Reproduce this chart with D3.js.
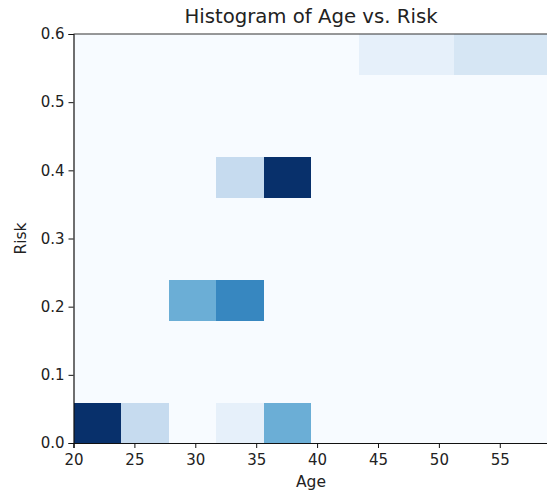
<!DOCTYPE html>
<html>
<head>
<meta charset="utf-8">
<script src="https://cdn.jsdelivr.net/npm/d3@7"></script>
<style>
  body { margin: 0; background: #fff; }
  svg text { font-family: "DejaVu Sans", sans-serif; fill: #222; }
</style>
</head>
<body>
<svg id="chart" width="547" height="492"></svg>
<script>
// bin edges
const ageEdges = [20, 23.9, 27.8, 31.7, 35.6, 39.5, 43.4, 47.3, 51.2, 55.1, 59];
const riskEdges = [0, 0.06, 0.12, 0.18, 0.24, 0.3, 0.36, 0.42, 0.48, 0.54, 0.6];

// counts, one row per risk bin (bottom to top), one column per age bin
const counts = [
  [12, 3, 0, 1, 6, 0, 0, 0, 0, 0],
  [0, 0, 0, 0, 0, 0, 0, 0, 0, 0],
  [0, 0, 0, 0, 0, 0, 0, 0, 0, 0],
  [0, 0, 6, 8, 0, 0, 0, 0, 0, 0],
  [0, 0, 0, 0, 0, 0, 0, 0, 0, 0],
  [0, 0, 0, 0, 0, 0, 0, 0, 0, 0],
  [0, 0, 0, 3, 12, 0, 0, 0, 0, 0],
  [0, 0, 0, 0, 0, 0, 0, 0, 0, 0],
  [0, 0, 0, 0, 0, 0, 0, 0, 0, 0],
  [0, 0, 0, 0, 0, 0, 1, 1, 2, 2]
];

const xTicks = [20, 25, 30, 35, 40, 45, 50, 55];
const yTicks = [0, 0.1, 0.2, 0.3, 0.4, 0.5, 0.6];

const margin = {top: 34, left: 73.5, bottom: 49, right: -1.5};
const width = 547, height = 492;

let svg = d3.select("#chart");

var x = d3.scaleLinear()
  .domain([ageEdges[0], ageEdges[ageEdges.length - 1]])
  .range([margin.left, width - margin.right]);
var y = d3.scaleLinear()
  .domain([riskEdges[0], riskEdges[riskEdges.length - 1]])
  .range([height - margin.bottom, margin.top]);

// matplotlib Blues = linear between the 9 colorbrewer stops
const maxCount = d3.max(counts, r => d3.max(r));
const blues = d3.scaleLinear()
  .domain(d3.range(9).map(i => i / 8 * maxCount))
  .range(d3.schemeBlues[9])
  .interpolate(d3.interpolateRgb);

let cells = [];
for (let r = 0; r < counts.length; r++) {
  for (let c = 0; c < counts[r].length; c++) {
    cells.push({a0: ageEdges[c], a1: ageEdges[c + 1], r0: riskEdges[r], r1: riskEdges[r + 1], n: counts[r][c]});
  }
}

svg.append("g")
  .selectAll("rect")
  .data(cells)
  .join("rect")
  .attr("x", d => x(d.a0))
  .attr("y", d => y(d.r1))
  .attr("width", d => x(d.a1) - x(d.a0) + 0.5)
  .attr("height", d => y(d.r0) - y(d.r1) + 0.5)
  .attr("fill", d => blues(d.n))
  .attr("shape-rendering", "crispEdges");

// axes
var xAxis = d3.axisBottom(x).tickValues(xTicks).tickFormat(d3.format("d")).tickSize(5).tickPadding(6);
var yAxis = d3.axisLeft(y).tickValues(yTicks).tickFormat(d3.format(".1f")).tickSize(5).tickPadding(4);

let ax = svg.append("g")
  .attr("transform", `translate(0,${height - margin.bottom})`)
  .call(xAxis);
let ay = svg.append("g")
  .attr("transform", `translate(${margin.left},0)`)
  .call(yAxis);

[ax, ay].forEach(g => {
  g.selectAll("text").style("font-size", "15px");
  g.select(".domain").attr("stroke", "#111").attr("stroke-width", 1.2);
  g.selectAll(".tick line").attr("stroke", "#111");
});

// top spine
svg.append("line")
  .attr("x1", margin.left).attr("x2", width)
  .attr("y1", margin.top).attr("y2", margin.top)
  .attr("stroke", "#333").attr("stroke-width", 1.2);

svg.append("text")
  .attr("x", (x.range()[0] + x.range()[1]) / 2)
  .attr("y", 23)
  .attr("text-anchor", "middle")
  .style("font-size", "19.7px")
  .text("Histogram of Age vs. Risk");

svg.append("text")
  .attr("x", (x.range()[0] + x.range()[1]) / 2)
  .attr("y", 487)
  .attr("text-anchor", "middle")
  .style("font-size", "15.5px")
  .text("Age");

svg.append("text")
  .attr("transform", `translate(26,${(y.range()[0] + y.range()[1]) / 2}) rotate(-90)`)
  .attr("text-anchor", "middle")
  .style("font-size", "15.5px")
  .text("Risk");
</script>
</body>
</html>
